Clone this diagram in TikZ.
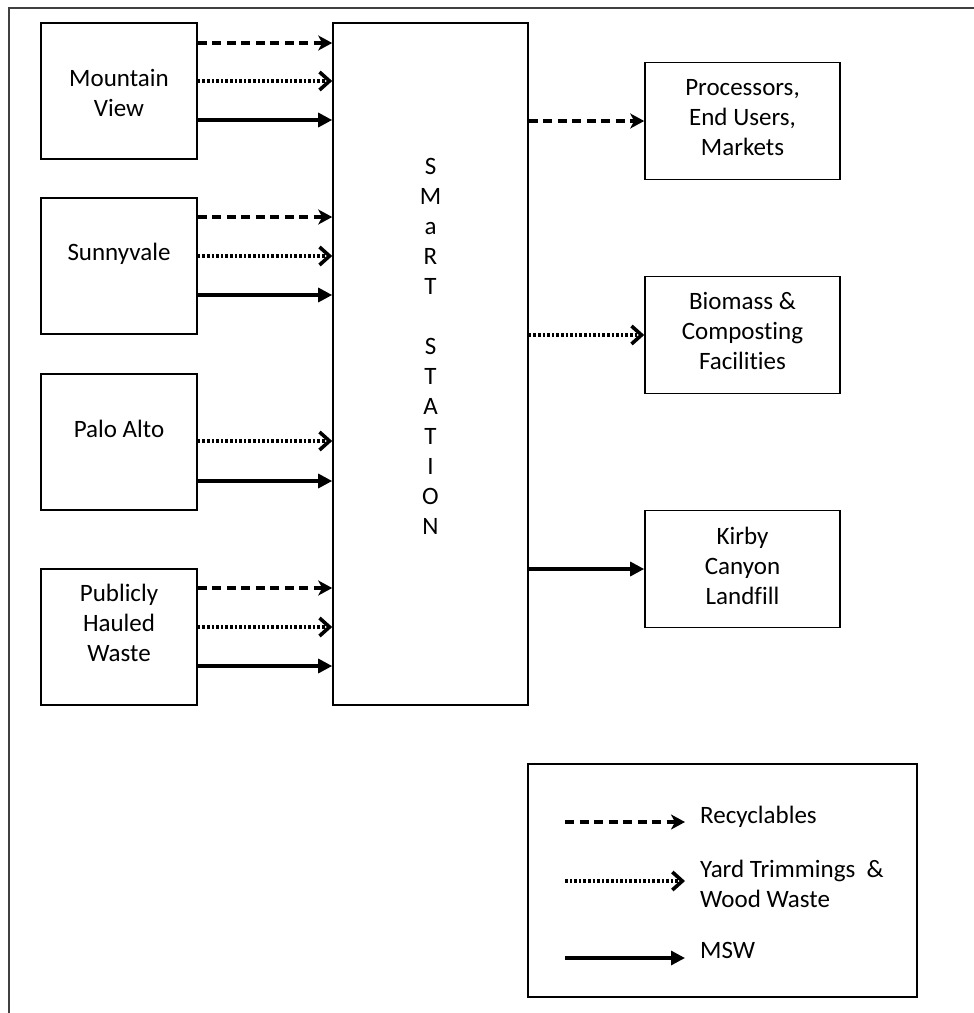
\documentclass[tikz,border=0pt]{standalone}
\usepackage{fontspec}
\setmainfont[Ligatures=NoCommon]{Carlito}
\usetikzlibrary{positioning, calc}
\usetikzlibrary{arrows.meta}

\tikzset{
  src/.style={rectangle, draw, line width=1.6pt, minimum width=156pt, minimum height=136pt, inner sep=0pt, align=center},
  dest/.style={rectangle, draw, line width=1.6pt, minimum width=195pt, minimum height=117pt, inner sep=0pt},
  recyc/.style={line width=3.6pt, dash pattern=on 9pt off 5.5pt, -{Stealth[length=14pt, width=15pt, inset=4pt]}},
  yard/.style={line width=3.6pt, dash pattern=on 2.6pt off 2pt, -{Straight Barb[length=10pt, width=18pt, line width=3.6pt]}},
  msw/.style={line width=3.2pt, -{Triangle[length=14pt, width=14pt]}}
}

\begin{document}
\begin{tikzpicture}[x=1pt, y=-1pt, font=\fontsize{25pt}{30pt}\selectfont]
        \useasboundingbox (0,0) rectangle (974,1013);
        \fill[white] (0,0) rectangle (974,1013);

        % Frame
        \draw[line width=1.5pt, black!75] (9,1013) -- (9,8) -- (974,8);

        % Nodes
        \node (mview) [src, label={[yshift=-2pt, align=center]center:Mountain\\View}] at (119,91) {};
        \node (sunny) [src, label={[yshift=12pt]center:Sunnyvale}] at (119,266) {};
        \node (palo) [src, label={[yshift=13pt]center:Palo Alto}] at (119,442) {};
        \node (public) [src, label={[yshift=14pt, align=center]center:Publicly\\Hauled\\Waste}] at (119,637) {};

        \node (smart) [rectangle, draw, line width=1.6pt, minimum width=195pt, minimum height=682pt, inner sep=0pt] at (430.5,364) {};
        \node [align=center] at ([yshift=18pt]smart.center)
                    {S\\M\\a\\R\\T\\[30pt]S\\T\\A\\T\\I\\O\\N};

        \node (proc) [dest, label={[yshift=3pt, align=center]center:Processors,\\End Users,\\Markets}] at (742.5,121) {};
        \node (biomass) [dest, label={[yshift=4pt, align=center]center:Biomass \&\\Composting\\Facilities}] at (742.5,335) {};
        \node (kirby) [dest, label={[yshift=3pt, align=center]center:Kirby\\Canyon\\Landfill}] at (742.5,569) {};

        \node (legend) [rectangle, draw, line width=1.6pt, minimum width=389pt, minimum height=233pt, inner sep=0pt] at (722.5,880.5) {};

        % Arrows in
        \draw[recyc] ([yshift=48pt]mview.east) -- ([yshift=48pt]mview.east -| smart.west);
        \draw[yard] ([yshift=10pt]mview.east) -- ([yshift=10pt]mview.east -| smart.west);
        \draw[msw] ([yshift=-29pt]mview.east) -- ([yshift=-29pt]mview.east -| smart.west);

        \draw[recyc] ([yshift=49pt]sunny.east) -- ([yshift=49pt]sunny.east -| smart.west);
        \draw[yard] ([yshift=10pt]sunny.east) -- ([yshift=10pt]sunny.east -| smart.west);
        \draw[msw] ([yshift=-29pt]sunny.east) -- ([yshift=-29pt]sunny.east -| smart.west);

        \draw[yard] ([yshift=1pt]palo.east) -- ([yshift=1pt]palo.east -| smart.west);
        \draw[msw] ([yshift=-39pt]palo.east) -- ([yshift=-39pt]palo.east -| smart.west);

        \draw[recyc] ([yshift=49pt]public.east) -- ([yshift=49pt]public.east -| smart.west);
        \draw[yard] ([yshift=10pt]public.east) -- ([yshift=10pt]public.east -| smart.west);
        \draw[msw] ([yshift=-29pt]public.east) -- ([yshift=-29pt]public.east -| smart.west);

        % Arrows out
        \draw[recyc] (proc.west -| smart.east) -- (proc.west);
        \draw[yard] (biomass.west -| smart.east) -- (biomass.west);
        \draw[msw] (kirby.west -| smart.east) -- (kirby.west);

        % Legend
        \node (lrecyc) [anchor=west, inner sep=0pt] at (700,817) {Recyclables};
        \node (lyard) [anchor=west, inner sep=0pt, align=left] at (700,884) {Yard Trimmings\ \ \&\\Wood Waste};
        \node (lmsw) [anchor=west, inner sep=0pt] at (700,950) {MSW};
        \coordinate (r0) at (565,822);
        \coordinate (y0) at (565,881);
        \coordinate (m0) at (565,958);
        \draw[recyc] (r0) -- ++(120,0);
        \draw[yard] (y0) -- ++(120,0);
        \draw[msw] (m0) -- ++(120,0);

\end{tikzpicture}
\end{document}
